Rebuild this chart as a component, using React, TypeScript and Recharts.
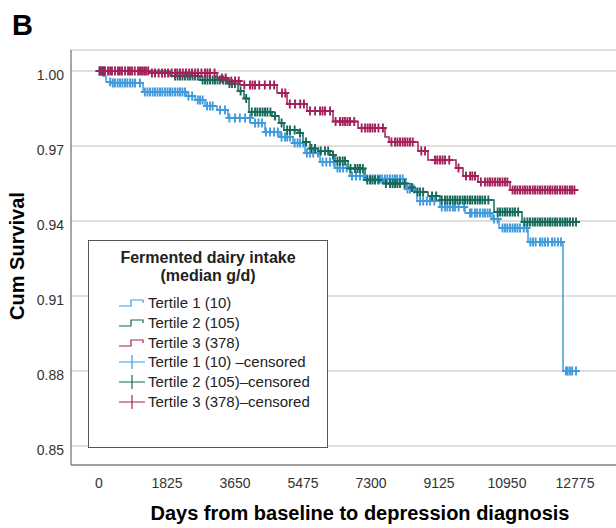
import { ComposedChart, Line, Scatter, XAxis, YAxis, CartesianGrid } from 'recharts'

const xTicks = [0, 1825, 3650, 5475, 7300, 9125, 10950, 12775]
const yTicks = [0.85, 0.88, 0.91, 0.94, 0.97, 1.0]

// event steps (days, cumulative survival)
const t1Times = [0, 107, 188, 349, 1181, 2335, 2577, 2845, 3167, 3462, 4053, 4455, 4858, 5207, 5529, 5932, 6334, 6737, 7139, 8240, 8535, 9152, 9823, 10548, 10736, 11514, 12454, 12830]
const t1Surv = [1, 0.998, 0.9956, 0.9952, 0.9916, 0.99, 0.9884, 0.986, 0.9844, 0.9812, 0.9792, 0.9756, 0.9736, 0.9712, 0.9672, 0.9636, 0.9612, 0.958, 0.9568, 0.9528, 0.948, 0.9456, 0.9432, 0.9408, 0.9372, 0.9316, 0.88, 0.88]
const t1Censored = [27, 300, 370, 429, 500, 564, 630, 698, 760, 832, 900, 966, 1100, 1230, 1300, 1369, 1440, 1503, 1570, 1637, 1700, 1771, 1840, 1906, 1970, 2040, 2110, 2174, 2240, 2308, 2400, 2500, 2650, 2711, 2780, 2900, 2979, 3050, 3250, 3382, 3500, 3650, 3780, 3919, 4050, 4187, 4280, 4375, 4480, 4590, 4700, 4800, 4900, 4992, 5050, 5126, 5250, 5330, 5395, 5480, 5580, 5663, 5750, 5878, 6000, 6100, 6200, 6300, 6400, 6468, 6550, 6650, 6790, 6900, 7005, 7100, 7200, 7274, 7340, 7408, 7480, 7542, 7600, 7676, 7740, 7810, 7880, 7945, 8000, 8079, 8150, 8280, 8347, 8450, 8616, 8700, 8800, 8884, 9000, 9200, 9287, 9350, 9421, 9500, 9555, 9650, 9800, 9958, 10000, 10092, 10150, 10226, 10300, 10360, 10430, 10494, 10600, 10700, 10830, 10897, 10960, 11031, 11100, 11165, 11230, 11300, 11400, 11480, 11580, 11649, 11720, 11836, 11900, 11971, 12050, 12159, 12230, 12320, 12400, 12535, 12580, 12642, 12700, 12803]

const t2Times = [0, 1906, 2711, 3436, 3731, 3892, 4026, 4643, 4831, 4965, 5341, 5475, 5663, 5878, 6200, 6334, 6683, 7139, 7623, 8347, 8481, 8830, 9152, 10602, 11353, 12830]
const t2Surv = [1, 0.998, 0.9964, 0.995, 0.992, 0.989, 0.9836, 0.982, 0.9792, 0.9764, 0.9752, 0.9716, 0.969, 0.968, 0.9664, 0.964, 0.961, 0.9564, 0.955, 0.9534, 0.9516, 0.95, 0.9484, 0.9436, 0.9396, 0.9396]
const t2Censored = [10, 54, 100, 134, 2040, 2110, 2174, 2240, 2308, 2380, 2442, 2510, 2577, 2650, 2780, 2845, 2910, 2979, 3050, 3113, 3180, 3248, 3330, 3400, 3500, 3570, 3650, 3800, 3950, 4100, 4187, 4250, 4321, 4390, 4455, 4520, 4600, 4724, 4900, 5050, 5126, 5250, 5395, 5556, 5700, 5798, 5950, 6066, 6150, 6280, 6400, 6468, 6540, 6603, 6750, 6871, 6940, 7005, 7080, 7200, 7274, 7340, 7408, 7500, 7700, 7810, 7880, 7945, 8010, 8079, 8200, 8400, 8550, 8616, 8700, 8938, 9050, 9200, 9287, 9350, 9421, 9490, 9555, 9620, 9689, 9760, 9823, 9890, 9958, 10020, 10092, 10160, 10226, 10290, 10360, 10450, 10700, 10763, 10830, 10897, 10960, 11031, 11100, 11165, 11250, 11420, 11500, 11568, 11640, 11702, 11770, 11836, 11900, 11971, 12040, 12105, 12170, 12239, 12300, 12374, 12440, 12508, 12570, 12642, 12720, 12803]

const t3Times = [0, 1369, 3167, 3462, 3784, 4778, 5046, 5583, 6281, 6952, 7676, 7784, 8562, 8830, 9582, 9770, 10172, 11031, 12830]
const t3Surv = [1, 0.9992, 0.9972, 0.996, 0.9944, 0.9912, 0.9868, 0.984, 0.9798, 0.9772, 0.9736, 0.9716, 0.968, 0.9644, 0.9612, 0.958, 0.9556, 0.9524, 0.9524]
const t3Censored = [27, 100, 161, 242, 300, 349, 430, 510, 560, 617, 700, 778, 830, 886, 960, 1047, 1100, 1154, 1210, 1261, 1320, 1420, 1503, 1600, 1691, 1770, 1852, 1950, 2040, 2100, 2174, 2250, 2335, 2420, 2496, 2580, 2657, 2750, 2845, 2910, 2979, 3100, 3301, 3400, 3550, 3650, 3750, 3900, 4053, 4120, 4187, 4300, 4450, 4590, 4700, 4912, 5000, 5120, 5261, 5400, 5500, 5663, 5800, 5932, 6000, 6066, 6200, 6350, 6468, 6540, 6603, 6670, 6737, 6850, 7050, 7139, 7210, 7274, 7340, 7408, 7500, 7620, 7850, 7945, 8010, 8079, 8150, 8213, 8280, 8347, 8420, 8650, 8750, 9018, 9080, 9152, 9220, 9287, 9400, 9650, 9850, 9958, 10020, 10092, 10250, 10360, 10430, 10494, 10560, 10628, 10700, 10763, 10830, 10897, 10960, 11100, 11165, 11230, 11300, 11370, 11434, 11500, 11568, 11640, 11702, 11770, 11836, 11900, 11971, 12040, 12105, 12170, 12239, 12300, 12374, 12440, 12508, 12570, 12640, 12696, 12760]

const seriesNames = ['Tertile 1 (10)', 'Tertile 2 (105)', 'Tertile 3 (378)']
const censoredNames = ['Tertile 1 (10) \u2013censored', 'Tertile 2 (105)\u2013censored', 'Tertile 3 (378)\u2013censored']
const colors = ['#3f9bdc', '#17695a', '#a3205a']

const FONT = '"Liberation Sans", Arial, sans-serif'

function steps(times: number[], surv: number[]) {
  return times.map((t, i) => ({ t, s: surv[i] }))
}

function survAt(times: number[], surv: number[], t: number) {
  let v = surv[0]
  for (let i = 0; i < times.length; i++) {
    if (times[i] <= t) v = surv[i]
  }
  return v
}

function censors(times: number[], surv: number[], cens: number[]) {
  return cens.map((t) => ({ t, s: survAt(times, surv, t) }))
}

const series = [
  { line: steps(t1Times, t1Surv), cens: censors(t1Times, t1Surv, t1Censored) },
  { line: steps(t2Times, t2Surv), cens: censors(t2Times, t2Surv, t2Censored) },
  { line: steps(t3Times, t3Surv), cens: censors(t3Times, t3Surv, t3Censored) },
]

const plusShape = (color: string) => (props: any) => {
  const { cx, cy } = props
  return (
    <path
      d={`M${cx - 4},${cy}h8M${cx},${cy - 4.5}v9`}
      stroke={color}
      strokeWidth={1.9}
      fill="none"
    />
  )
}

function Legend() {
  return (
    <div
      style={{
        position: 'absolute', left: 88, top: 240, width: 238, height: 206,
        background: '#fff', border: '1.5px solid #555', fontFamily: FONT, color: '#222',
      }}
    >
      <div style={{ textAlign: 'center', fontWeight: 'bold', fontSize: 16, lineHeight: '18px', marginTop: 8 }}>
        Fermented dairy intake<br />(median g/d)
      </div>
      <svg width={238} height={130} style={{ position: 'absolute', left: 0, top: 52 }}>
        {seriesNames.map((n, i) => {
          const y = 10 + i * 20
          return (
            <g key={n}>
              <path d={`M30,${y + 3}H42V${y - 3}H54V${y}`} stroke={colors[i]} strokeWidth={1.2} fill="none" />
              <text x={59} y={y + 5} fontSize={15} fill="#222">{n}</text>
            </g>
          )
        })}
        {censoredNames.map((n, i) => {
          const y = 69 + i * 20
          return (
            <g key={n}>
              <path d={`M30,${y}H56M43,${y - 7}V${y + 7}`} stroke={colors[i]} strokeWidth={1.2} fill="none" />
              <text x={59} y={y + 5} fontSize={15} fill="#222">{n}</text>
            </g>
          )
        })}
      </svg>
    </div>
  )
}

export default function App() {
  return (
    <div style={{ position: 'absolute', left: 0, top: 0, width: 616, height: 528, background: '#fff', fontFamily: FONT }}>
      <ComposedChart width={616} height={528} margin={{ top: 50, right: 0, bottom: 33, left: 0 }}>
        <CartesianGrid vertical={false} stroke="#d4d4d4" strokeWidth={1.5} />
        <XAxis
          dataKey="t"
          type="number"
          domain={[-752, 13876]}
          ticks={xTicks}
          allowDataOverflow
          height={30}
          tickLine={false}
          tickSize={0}
          tickMargin={13}
          axisLine={{ stroke: '#8a8a8a', strokeWidth: 1.5 }}
          tick={{ fill: '#333', fontSize: 14, fontFamily: FONT }}
        />
        <YAxis
          dataKey="s"
          type="number"
          domain={[0.8424, 1.0084]}
          ticks={yTicks}
          allowDataOverflow
          width={71}
          tickLine={false}
          tickSize={0}
          tickMargin={7}
          axisLine={{ stroke: '#8a8a8a', strokeWidth: 1.5 }}
          tickFormatter={(v: number) => v.toFixed(2)}
          tick={{ fill: '#333', fontSize: 14, fontFamily: FONT, dy: 4 }}
        />
        {series.map((s, i) => (
          <Line
            key={'l' + i}
            data={s.line}
            dataKey="s"
            type="stepAfter"
            stroke={colors[i]}
            strokeWidth={1.5}
            dot={false}
            activeDot={false}
            isAnimationActive={false}
          />
        ))}
        {series.map((s, i) => (
          <Scatter
            key={'c' + i}
            data={s.cens}
            dataKey="s"
            fill={colors[i]}
            shape={plusShape(colors[i])}
            isAnimationActive={false}
          />
        ))}
      </ComposedChart>
      <svg width={616} height={528} style={{ position: 'absolute', left: 0, top: 0, pointerEvents: 'none' }}>
        <text x={12} y={35} fontSize={29} fontWeight="bold" fill="#000" fontFamily={FONT}>B</text>
        <text
          x={17} y={256} fontSize={20} fontWeight="bold" fill="#000" fontFamily={FONT}
          textAnchor="middle" dominantBaseline="central" transform="rotate(-90 17 256)"
        >
          Cum Survival
        </text>
        <text x={360} y={520} fontSize={20} fontWeight="bold" fill="#000" fontFamily={FONT} textAnchor="middle">
          Days from baseline to depression diagnosis
        </text>
      </svg>
      <Legend />
    </div>
  )
}
